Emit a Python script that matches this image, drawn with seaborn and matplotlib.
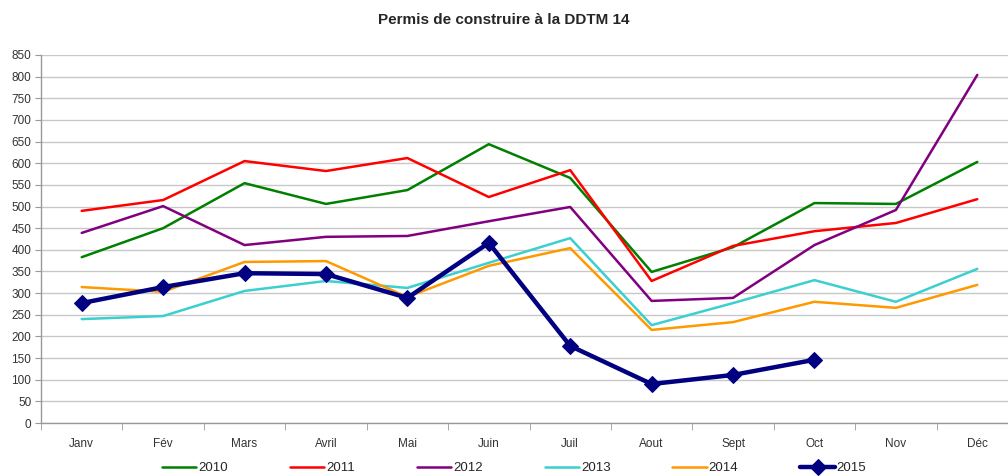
import numpy as np
import pandas as pd
import matplotlib
matplotlib.use("Agg")
import matplotlib.pyplot as plt
from matplotlib.ticker import MultipleLocator, FixedLocator
import seaborn as sns

# Data
months = ["Janv", "Fév", "Mars", "Avril", "Mai", "Juin", "Juil", "Aout", "Sept", "Oct", "Nov", "Déc"]
y2010 = [383, 450, 554, 506, 538, 644, 566, 349, 406, 508, 506, 603]
y2011 = [490, 515, 605, 582, 612, 522, 584, 328, 409, 443, 462, 517]
y2012 = [439, 501, 411, 430, 432, 466, 499, 282, 289, 411, 492, 804]
y2013 = [240, 247, 305, 328, 312, 370, 427, 226, 277, 330, 280, 356]
y2014 = [314, 303, 372, 374, 291, 363, 404, 215, 233, 280, 266, 319]
y2015 = [277, 314, 346, 344, 289, 416, 178, 90, 111, 146]

series = {"2010": y2010, "2011": y2011, "2012": y2012,
          "2013": y2013, "2014": y2014, "2015": y2015}
colors = {"2010": "#008000", "2011": "#FF0000", "2012": "#800080",
          "2013": "#3CCFCF", "2014": "#FF9900", "2015": "#000080"}

rows = []
for year, vals in series.items():
    for i, v in enumerate(vals):
        rows.append({"annee": year, "pos": i, "mois": months[i], "valeur": v})
df = pd.DataFrame(rows)

sns.set_style("white")
plt.rcParams["font.family"] = ["Liberation Sans", "DejaVu Sans"]

fig = plt.figure(figsize=(10.08, 4.76), dpi=100)
ax = fig.add_axes([41 / 1008, 1 - 423 / 476, 977 / 1008, 368 / 476])

for year in series:
    sub = df[df["annee"] == year]
    if year == "2015":
        sns.lineplot(data=sub, x="pos", y="valeur", ax=ax, color=colors[year],
                     linewidth=3.2, marker="D", markersize=8.5,
                     markeredgecolor=colors[year], label=year, zorder=5)
    else:
        sns.lineplot(data=sub, x="pos", y="valeur", ax=ax, color=colors[year],
                     linewidth=1.8, label=year)

ax.set_xlim(-0.5, len(months) - 0.5)
ax.set_ylim(0, 850)
ax.yaxis.set_major_locator(MultipleLocator(50))
ax.grid(axis="y", color="#c8c8c8", linewidth=1)
ax.set_axisbelow(True)

ax.set_xticks(np.arange(len(months)))
ax.set_xticklabels(months)
ax.xaxis.set_minor_locator(FixedLocator(np.arange(-0.5, len(months), 1.0)))
ax.tick_params(axis="x", which="major", length=0, pad=11, labelsize=8.5, colors="#333333")
ax.tick_params(axis="x", which="minor", length=5, color="#999999", direction="out")
ax.tick_params(axis="y", which="major", length=4, color="#999999", direction="out",
               labelsize=8.5, pad=3, labelcolor="#333333")
ax.tick_params(axis="y", left=True)
ax.tick_params(axis="x", bottom=True, which="both")

for side in ["top", "right"]:
    ax.spines[side].set_visible(False)
for side in ["left", "bottom"]:
    ax.spines[side].set_color("#999999")
    ax.spines[side].set_linewidth(1)

ax.set_xlabel("")
ax.set_ylabel("")

handles, labels = ax.get_legend_handles_labels()
ax.get_legend().remove()
fig.legend(handles, labels, loc="center", bbox_to_anchor=(514 / 1008, 1 - 468 / 476),
           ncol=6, frameon=False, fontsize=9.5, handlelength=2.6, handletextpad=0.15,
           columnspacing=4.7, borderpad=0.1)

fig.text(0.5, 1 - 20 / 476, "Permis de construire à la DDTM 14", ha="center", va="center",
         fontsize=11, fontweight="bold")

fig.savefig("out.png", dpi=100)
